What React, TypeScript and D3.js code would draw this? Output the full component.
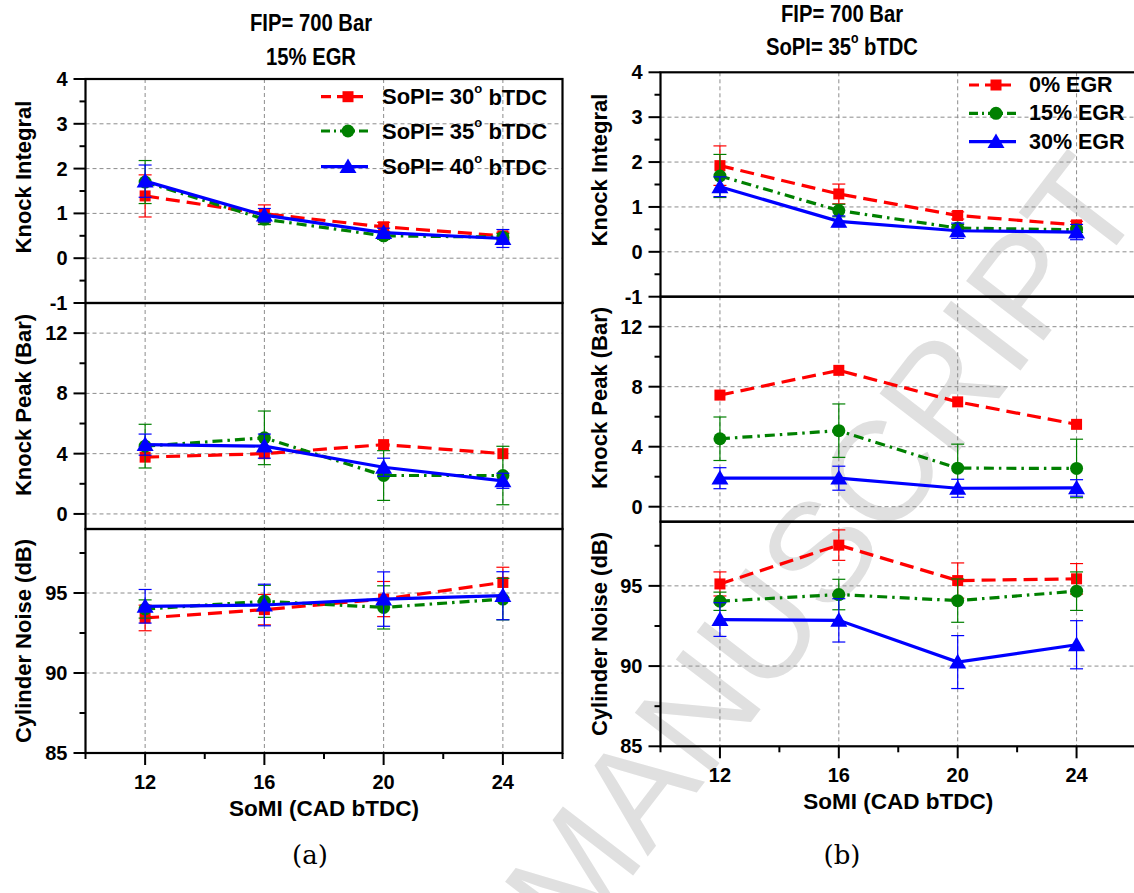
import React from "react";
import * as d3 from "d3";

// ---------------- DATA ----------------
const somi = [12, 16, 20, 24];
const xMajor = [12, 16, 20, 24];
const xMinor = [10, 14, 18, 22, 26];

const legendA = ["30", "35", "40"]; // SoPI (deg bTDC)
const legendB = ["0% EGR", "15% EGR", "30% EGR"];

// (a) FIP = 700 bar, 15% EGR
const aKI30 = [1.39, 0.99, 0.7, 0.5];
const aKI30Err = [0.47, 0.2, 0.1, 0.08];
const aKI35 = [1.7, 0.87, 0.5, 0.47];
const aKI35Err = [0.48, 0.12, 0.08, 0.08];
const aKI40 = [1.72, 0.96, 0.57, 0.44];
const aKI40Err = [0.36, 0.15, 0.1, 0.2];

const aKP30 = [3.77, 4.0, 4.6, 4.0];
const aKP30Err = [0, 0, 0, 0];
const aKP35 = [4.5, 5.05, 2.55, 2.55];
const aKP35Err = [1.45, 1.78, 1.65, 1.94];
const aKP40 = [4.6, 4.5, 3.1, 2.2];
const aKP40Err = [0.7, 0.8, 0.6, 0.5];

const aCN30 = [93.44, 93.96, 94.62, 95.66];
const aCN30Err = [0.8, 0.95, 1.1, 0.95];
const aCN35 = [94.0, 94.48, 94.1, 94.62];
const aCN35Err = [0.57, 1.0, 1.35, 1.3];
const aCN40 = [94.17, 94.25, 94.62, 94.83];
const aCN40Err = [1.05, 1.3, 1.7, 1.5];

// (b) FIP = 700 bar, SoPI = 35 deg bTDC
const bKI0 = [1.92, 1.29, 0.81, 0.6];
const bKI0Err = [0.44, 0.22, 0.08, 0.08];
const bKI15 = [1.69, 0.92, 0.53, 0.49];
const bKI15Err = [0.48, 0.14, 0.08, 0.06];
const bKI30 = [1.45, 0.68, 0.47, 0.44];
const bKI30Err = [0.22, 0.12, 0.17, 0.17];

const bKP0 = [7.44, 9.09, 6.99, 5.49];
const bKP0Err = [0, 0, 0, 0];
const bKP15 = [4.53, 5.07, 2.57, 2.55];
const bKP15Err = [1.45, 1.78, 1.6, 1.95];
const bKP30 = [1.9, 1.9, 1.23, 1.25];
const bKP30Err = [0.7, 0.8, 0.6, 0.55];

const bCN0 = [95.12, 97.54, 95.33, 95.44];
const bCN0Err = [0.75, 0.95, 1.1, 0.95];
const bCN15 = [94.04, 94.46, 94.08, 94.67];
const bCN15Err = [0.57, 0.95, 1.35, 1.2];
const bCN30 = [92.9, 92.85, 90.25, 91.33];
const bCN30Err = [1.05, 1.35, 1.65, 1.5];

// ---------------- STYLE ----------------
const FONT = "'Liberation Sans', Arial, sans-serif";
const COLORS = ["#ff0000", "#008000", "#0000ff"];
const DASHES = ["14 7", "10 5 2.5 5", undefined];
const MARKERS = ["square", "circle", "triangle"];

type Sub = {
  top: number;
  bottom: number;
  domain: [number, number];
  major: number[];
  minor: number[];
  labels: number[];
  grid: number[];
  title: string;
  titleY: number;
  series: { v: number[]; e: number[] }[];
};

type Fig = {
  x0: number;
  x1: number;
  axisTitleX: number;
  subs: Sub[];
  xLabelY: number;
  xTitleY: number;
  legend: { x: number; rows: number[]; kind: "a" | "b" };
};

function Marker({ kind, x, y, color }: { kind: string; x: number; y: number; color: string }) {
  if (kind === "square") return <rect x={x - 5.5} y={y - 5.5} width={11} height={11} fill={color} />;
  if (kind === "circle") return <circle cx={x} cy={y} r={6.5} fill={color} />;
  const sym = d3.symbol(d3.symbolTriangle, 125)();
  return <path d={sym || ""} transform={`translate(${x},${y + 1.5})`} fill={color} />;
}

function Figure({ f }: { f: Fig }) {
  const x = d3.scaleLinear().domain([10, 26]).range([f.x0, f.x1]);
  const yTop = f.subs[0].top;
  const yBot = f.subs[f.subs.length - 1].bottom;
  return (
    <g>
      {xMajor.map((t) => (
        <line key={"vg" + t} x1={x(t)} x2={x(t)} y1={yTop} y2={yBot} stroke="#8c8c8c" strokeWidth={1} strokeDasharray="4 3" />
      ))}
      {f.subs.map((s, si) => {
        const y = d3.scaleLinear().domain(s.domain).range([s.bottom, s.top]);
        const line = d3
          .line<number>()
          .x((_, i) => x(somi[i]))
          .y((d) => y(d));
        return (
          <g key={"sub" + si}>
            {s.grid.map((g) => (
              <line key={"hg" + g} x1={f.x0} x2={f.x1} y1={y(g)} y2={y(g)} stroke="#8c8c8c" strokeWidth={1} strokeDasharray="4 3" />
            ))}
            {s.major.map((t) => (
              <line key={"mj" + t} x1={f.x0 - 12} x2={f.x0} y1={y(t)} y2={y(t)} stroke="#000" strokeWidth={2} />
            ))}
            {s.minor.map((t) => (
              <line key={"mn" + t} x1={f.x0 - 6} x2={f.x0} y1={y(t)} y2={y(t)} stroke="#000" strokeWidth={2} />
            ))}
            {s.labels.map((t) => (
              <text key={"lb" + t} x={f.x0 - 18} y={y(t)} textAnchor="end" dominantBaseline="central" fontFamily={FONT} fontWeight="bold" fontSize={20}>
                {t}
              </text>
            ))}
            <text
              transform={`translate(${f.axisTitleX},${s.titleY}) rotate(-90)`}
              textAnchor="middle"
              dominantBaseline="central"
              fontFamily={FONT}
              fontWeight="bold"
              fontSize={22}
            >
              {s.title}
            </text>
            {s.series.map((ser, k) => (
              <g key={"ser" + k}>
                {ser.v.map((v, i) =>
                  ser.e[i] > 0 ? (
                    <g key={"eb" + i} stroke={COLORS[k]} strokeWidth={1.2}>
                      <line x1={x(somi[i])} x2={x(somi[i])} y1={y(v - ser.e[i])} y2={y(v + ser.e[i])} />
                      <line x1={x(somi[i]) - 6.5} x2={x(somi[i]) + 6.5} y1={y(v - ser.e[i])} y2={y(v - ser.e[i])} />
                      <line x1={x(somi[i]) - 6.5} x2={x(somi[i]) + 6.5} y1={y(v + ser.e[i])} y2={y(v + ser.e[i])} />
                    </g>
                  ) : null
                )}
                <path d={line(ser.v) || ""} fill="none" stroke={COLORS[k]} strokeWidth={3.2} strokeDasharray={DASHES[k]} />
                {ser.v.map((v, i) => (
                  <Marker key={"mk" + i} kind={MARKERS[k]} x={x(somi[i])} y={y(v)} color={COLORS[k]} />
                ))}
              </g>
            ))}
            <rect x={f.x0} y={s.top} width={f.x1 - f.x0} height={s.bottom - s.top} fill="none" stroke="#000" strokeWidth={2.2} />
          </g>
        );
      })}
      {xMajor.map((t) => (
        <line key={"xm" + t} x1={x(t)} x2={x(t)} y1={yBot} y2={yBot + 12} stroke="#000" strokeWidth={2} />
      ))}
      {xMinor.map((t) => (
        <line key={"xn" + t} x1={x(t)} x2={x(t)} y1={yBot} y2={yBot + 6} stroke="#000" strokeWidth={2} />
      ))}
      {xMajor.map((t) => (
        <text key={"xl" + t} x={x(t)} y={f.xLabelY} textAnchor="middle" dominantBaseline="central" fontFamily={FONT} fontWeight="bold" fontSize={20}>
          {t}
        </text>
      ))}
      <text x={(f.x0 + f.x1) / 2} y={f.xTitleY} textAnchor="middle" dominantBaseline="central" fontFamily={FONT} fontWeight="bold" fontSize={22.5}>
        SoMI (CAD bTDC)
      </text>
      {f.legend.rows.map((ry, k) => (
        <g key={"lg" + k}>
          <line x1={f.legend.x} x2={f.legend.x + 47} y1={ry} y2={ry} stroke={COLORS[k]} strokeWidth={3.2} strokeDasharray={DASHES[k] ? (k === 0 ? "10 6" : "9 4 2 4") : undefined} />
          <Marker kind={MARKERS[k]} x={f.legend.x + 27} y={ry} color={COLORS[k]} />
          {f.legend.kind === "a" ? (
            <text x={f.legend.x + 61} y={ry} dominantBaseline="central" fontFamily={FONT} fontWeight="bold" fontSize={22}>
              {"SoPI= " + legendA[k]}
              <tspan dy={-9} fontSize={13}>o</tspan>
              <tspan dy={9}>{" bTDC"}</tspan>
            </text>
          ) : (
            <text x={f.legend.x + 60} y={ry} dominantBaseline="central" fontFamily={FONT} fontWeight="bold" fontSize={21.5}>
              {legendB[k]}
            </text>
          )}
        </g>
      ))}
    </g>
  );
}

const figA: Fig = {
  x0: 85.5,
  x1: 562.5,
  axisTitleX: 23,
  xLabelY: 782,
  xTitleY: 808,
  legend: { x: 321, rows: [96.7, 131, 166.7], kind: "a" },
  subs: [
    {
      top: 79, bottom: 303, domain: [-1, 4], major: [-1, 0, 1, 2, 3, 4], minor: [-0.5, 0.5, 1.5, 2.5, 3.5],
      labels: [-1, 0, 1, 2, 3, 4], grid: [0, 1, 2, 3], title: "Knock Integral", titleY: 177,
      series: [{ v: aKI30, e: aKI30Err }, { v: aKI35, e: aKI35Err }, { v: aKI40, e: aKI40Err }],
    },
    {
      top: 303, bottom: 529, domain: [-1, 14], major: [0, 4, 8, 12], minor: [2, 6, 10],
      labels: [0, 4, 8, 12], grid: [0, 4, 8, 12], title: "Knock Peak (Bar)", titleY: 405,
      series: [{ v: aKP30, e: aKP30Err }, { v: aKP35, e: aKP35Err }, { v: aKP40, e: aKP40Err }],
    },
    {
      top: 529, bottom: 753, domain: [85, 99], major: [85, 90, 95], minor: [87.5, 92.5, 97.5],
      labels: [85, 90, 95], grid: [90, 95], title: "Cylinder Noise (dB)", titleY: 641,
      series: [{ v: aCN30, e: aCN30Err }, { v: aCN35, e: aCN35Err }, { v: aCN40, e: aCN40Err }],
    },
  ],
};

const figB: Fig = {
  x0: 660.5,
  x1: 1136,
  axisTitleX: 599,
  xLabelY: 775,
  xTitleY: 801,
  legend: { x: 969, rows: [85, 113.3, 141.7], kind: "b" },
  subs: [
    {
      top: 72.3, bottom: 296.7, domain: [-1, 4], major: [-1, 0, 1, 2, 3, 4], minor: [-0.5, 0.5, 1.5, 2.5, 3.5],
      labels: [-1, 0, 1, 2, 3, 4], grid: [0, 1, 2, 3], title: "Knock Integral", titleY: 170,
      series: [{ v: bKI0, e: bKI0Err }, { v: bKI15, e: bKI15Err }, { v: bKI30, e: bKI30Err }],
    },
    {
      top: 296.7, bottom: 521.7, domain: [-1, 14], major: [0, 4, 8, 12], minor: [2, 6, 10],
      labels: [0, 4, 8, 12], grid: [0, 4, 8, 12], title: "Knock Peak (Bar)", titleY: 398,
      series: [{ v: bKP0, e: bKP0Err }, { v: bKP15, e: bKP15Err }, { v: bKP30, e: bKP30Err }],
    },
    {
      top: 521.7, bottom: 746.3, domain: [85, 99], major: [85, 90, 95], minor: [87.5, 92.5, 97.5],
      labels: [85, 90, 95], grid: [90, 95], title: "Cylinder Noise (dB)", titleY: 634,
      series: [{ v: bCN0, e: bCN0Err }, { v: bCN15, e: bCN15Err }, { v: bCN30, e: bCN30Err }],
    },
  ],
};

function Title({ x, y, children }: { x: number; y: number; children: React.ReactNode }) {
  return (
    <text
      transform={`translate(${x},${y}) scale(0.88,1)`}
      textAnchor="middle"
      dominantBaseline="central"
      fontFamily={FONT}
      fontWeight="bold"
      fontSize={23}
    >
      {children}
    </text>
  );
}

export default function App() {
  return (
    <svg
      width={1134}
      height={893}
      viewBox="0 0 1134 893"
      style={{ position: "absolute", left: 0, top: 0, background: "#fff" }}
    >
      <rect x={0} y={0} width={1134} height={893} fill="#fff" />
      <text
        transform="translate(822,548) rotate(-52.5)"
        textAnchor="middle"
        dominantBaseline="central"
        fontFamily={FONT}
        fontSize={142}
        fill="#e0e0e0"
      >
        MANUSCRIPT
      </text>
      <Title x={311} y={23}>FIP= 700 Bar</Title>
      <Title x={311} y={57}>15% EGR</Title>
      <Title x={842} y={14}>FIP= 700 Bar</Title>
      <Title x={842} y={47}>
        SoPI= 35<tspan dy={-9} fontSize={14}>o</tspan>
        <tspan dy={9}> bTDC</tspan>
      </Title>
      <Figure f={figA} />
      <Figure f={figB} />
      <text x={310} y={855} textAnchor="middle" dominantBaseline="central" fontFamily="'DejaVu Serif', serif" fontSize={26}>
        (a)
      </text>
      <text x={842} y={855} textAnchor="middle" dominantBaseline="central" fontFamily="'DejaVu Serif', serif" fontSize={26}>
        (b)
      </text>
    </svg>
  );
}
